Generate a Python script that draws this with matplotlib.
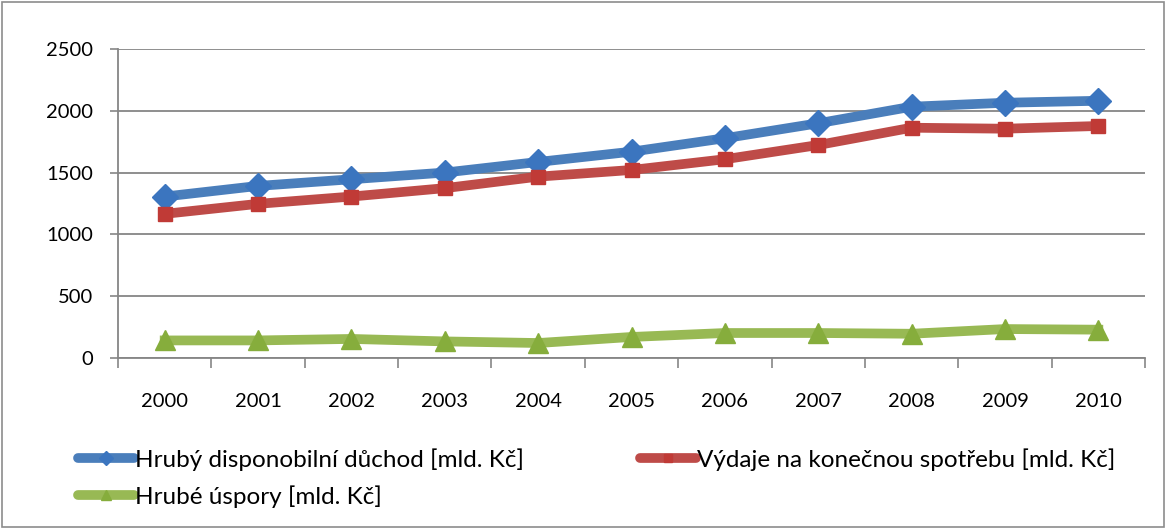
import matplotlib.pyplot as plt
from matplotlib.lines import Line2D
from matplotlib.patches import Rectangle
from matplotlib.ticker import MultipleLocator

plt.rcParams['font.family'] = ['Lato', 'DejaVu Sans']

years = ['2000', '2001', '2002', '2003', '2004', '2005',
         '2006', '2007', '2008', '2009', '2010']
duchod = [1306, 1392, 1446, 1500, 1586, 1669, 1778, 1899, 2033, 2065, 2081]
spotreba = [1166, 1247, 1306, 1374, 1467, 1521, 1608, 1723, 1863, 1855, 1877]
uspory = [142, 142, 154, 134, 121, 170, 202, 202, 196, 234, 229]

labels = ['Hrubý disponobilní důchod [mld. Kč]',
          'Výdaje na konečnou spotřebu [mld. Kč]',
          'Hrubé úspory [mld. Kč]']

grid_col = '#868686'

series = [
    (duchod, '#4a7ebb', 'D', 13, '#3b75bf'),
    (spotreba, '#be4b48', 's', 10.5, '#c03a36'),
    (uspory, '#98b954', '^', 14, '#86ad3c'),
]

fig = plt.figure(figsize=(11.66, 5.29), dpi=100)
ax = fig.add_axes([0.1012, 0.3233, 0.8808, 0.5841])

x = range(len(years))
handles = []
for vals, col, mk, ms, mcol in series:
    ax.plot(x, vals, color=col, lw=7, marker=mk, ms=ms, mfc=mcol, mec=mcol,
            solid_joinstyle='round', zorder=4)
    handles.append(Line2D([], [], color=col, lw=7, marker=mk, ms=ms * 0.55,
                          mfc=mcol, mec=mcol, solid_capstyle='round'))

ax.set_xlim(-0.5, len(years) - 0.5)
ax.set_ylim(0, 2500)
ax.yaxis.set_major_locator(MultipleLocator(500))
ax.set_xticks(list(x))
ax.set_xticklabels(years)
ax.set_xticks([i - 0.5 for i in range(len(years) + 1)], minor=True)
ax.tick_params(axis='x', which='major', length=0, pad=25, labelsize=14.5)
ax.tick_params(axis='x', which='minor', length=7, width=1.2, color=grid_col,
               direction='out')
ax.tick_params(axis='y', length=6, width=1.2, color=grid_col, pad=12,
               labelsize=14.5)
ax.grid(axis='y', color=grid_col, lw=1.3)
ax.set_axisbelow(True)
for s in ['top', 'right']:
    ax.spines[s].set_visible(False)
for s in ['left', 'bottom']:
    ax.spines[s].set_color(grid_col)
    ax.spines[s].set_linewidth(1.3)

# legend below the plot: two entries on the left, one on the right
leg_kw = dict(frameon=False, fontsize=17.5, handlelength=2.3,
              handletextpad=0.05, numpoints=1, labelspacing=0.6,
              borderpad=0, borderaxespad=0)
fig.legend([handles[0], handles[2]], [labels[0], labels[2]], loc='upper left',
           bbox_to_anchor=(78 / 1166, 1 - 448 / 529), **leg_kw)
fig.legend([handles[1]], [labels[1]], loc='upper left',
           bbox_to_anchor=(640 / 1166, 1 - 448 / 529), **leg_kw)

fig.patches.append(Rectangle((0.002, 0.003), 0.996, 0.994,
                             transform=fig.transFigure, fill=False,
                             edgecolor='#8c8c8c', lw=1.2))

fig.savefig('out.png', dpi=100)
